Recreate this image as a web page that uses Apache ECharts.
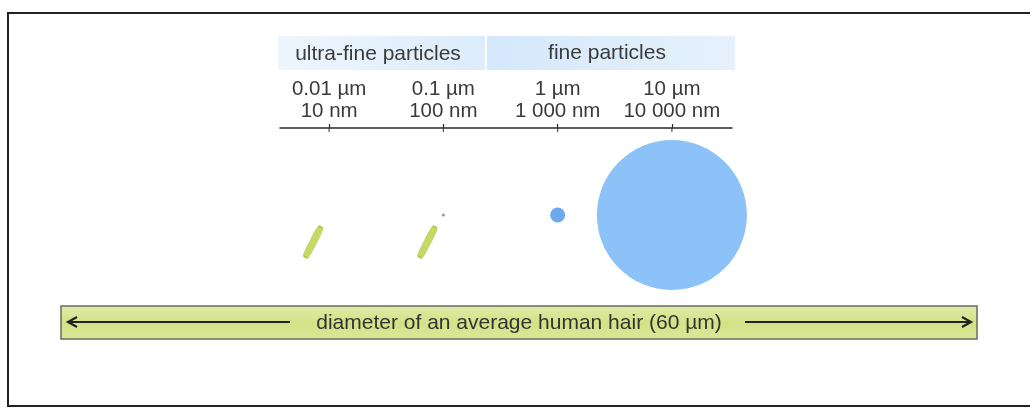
<!DOCTYPE html>
<html>
<head>
<meta charset="utf-8">
<script src="https://cdn.jsdelivr.net/npm/echarts@6/dist/echarts.min.js"></script>
<style>
html,body{margin:0;padding:0;background:#fff;}
#chart{width:1030px;height:408px;}
</style>
</head>
<body>
<div id="chart"></div>
<script>
// ---- data ----
const tickExponents = [-2, -1, 0, 1];              // log10 of size in µm
const tickMicron = ['0.01 µm', '0.1 µm', '1 µm', '10 µm'];
const tickNano = ['10 nm', '100 nm', '1 000 nm', '10 000 nm'];
const groupNames = ['ultra-fine particles', 'fine particles'];
const sphereDiameters = [0.1, 1, 10];              // µm
const sphereLevels = [0.494, 0.494, 0.494];
const rodExponents = [-2, -1];
const rodLevels = [0.337, 0.337];
const hairLabel = 'diameter of an average human hair (60 µm)';

const PX_PER_MICRON = 15;
const FONT = '"Liberation Sans", Arial, sans-serif';

const chart = echarts.init(document.getElementById('chart'), null, {renderer: 'canvas'});

const sphereData = sphereDiameters.map((d, i) => ({
  value: [Math.log10(d), sphereLevels[i]],
  itemStyle: {color: d < 0.5 ? '#8f98aa' : (d < 5 ? '#6ea9ef' : '#8dc2f8')}
}));
const rodData = rodExponents.map((e, i) => [e, rodLevels[i]]);

const option = {
  animation: false,
  backgroundColor: '#ffffff',
  grid: {left: 280, right: 298, top: 128, bottom: 108},
  xAxis: [{
    type: 'value', position: 'top', min: -2.43, max: 1.526,
    splitLine: {show: false},
    axisLine: {show: true, onZero: false, lineStyle: {color: '#2a2a2a', width: 1.5}},
    axisTick: {show: true, customValues: tickExponents, length: 4, inside: false, lineStyle: {color: '#2a2a2a', width: 1.2}},
    axisLabel: {
      show: true, customValues: tickExponents, margin: 6,
      fontFamily: FONT, fontSize: 20.5, lineHeight: 22, color: '#3a3a3a',
      formatter: v => {
        const i = tickExponents.indexOf(Math.round(v));
        return i < 0 ? '' : tickMicron[i] + '\n' + tickNano[i];
      }
    }
  }],
  yAxis: {type: 'value', min: 0, max: 1, show: false},
  series: [{
    name: 'spheres', type: 'scatter',
    data: sphereData,
    symbol: 'circle',
    symbolSize: v => Math.max(Math.pow(10, v[0]) * PX_PER_MICRON, 3),
    itemStyle: {opacity: 1},
    z: 3
  }, {
    name: 'rods', type: 'scatter',
    data: rodData,
    symbol: 'roundRect',
    symbolSize: [7, 34],
    symbolRotate: -27,
    symbolOffset: [-16, 0],
    itemStyle: {color: '#b8d040', borderColor: '#a5bf38', borderWidth: 0.8},
    z: 3
  }, {
    // short tick stubs below the axis line (ticks cross the line)
    name: 'tickStubs', type: 'scatter',
    data: tickExponents.map(e => [e, 1]),
    symbol: 'rect', symbolSize: [1.2, 4], symbolOffset: [0, 2],
    itemStyle: {color: '#2a2a2a'},
    silent: true, z: 2
  }],
  graphic: [
    // outer frame
    {type: 'rect', shape: {x: 8, y: 13, width: 1030, height: 393}, style: {fill: 'none', stroke: '#222', lineWidth: 2}, z: 1},
    // group headers
    {type: 'rect', shape: {x: 278, y: 36, width: 207, height: 34},
      style: {fill: new echarts.graphic.LinearGradient(0, 0, 1, 0, [{offset: 0, color: '#eef6fd'}, {offset: 1, color: '#dcecfb'}])}, z: 0},
    {type: 'rect', shape: {x: 487, y: 36, width: 248, height: 34},
      style: {fill: new echarts.graphic.LinearGradient(0, 0, 1, 0, [{offset: 0, color: '#d4e8fb'}, {offset: 1, color: '#e6f1fc'}])}, z: 0},
    {type: 'text', x: 378, y: 54, style: {text: groupNames[0], font: '21px ' + FONT, fill: '#3a3a3a', textAlign: 'center', textVerticalAlign: 'middle'}, z: 2},
    {type: 'text', x: 607, y: 53, style: {text: groupNames[1], font: '21px ' + FONT, fill: '#3a3a3a', textAlign: 'center', textVerticalAlign: 'middle'}, z: 2},
    // hair bar
    {type: 'rect', shape: {x: 61, y: 306, width: 916, height: 33},
      style: {fill: new echarts.graphic.LinearGradient(0, 0, 0, 1, [{offset: 0, color: '#e1ecaa'}, {offset: 0.5, color: '#d3e286'}, {offset: 1, color: '#dbe899'}]), stroke: '#6b6b5e', lineWidth: 1.5}, z: 1},
    {type: 'line', shape: {x1: 68, y1: 322, x2: 290, y2: 322}, style: {stroke: '#222', lineWidth: 2.2}, z: 2},
    {type: 'polyline', shape: {points: [[77, 317], [68, 322], [77, 327]]}, style: {stroke: '#222', lineWidth: 2.2, fill: 'none'}, z: 2},
    {type: 'line', shape: {x1: 745, y1: 322, x2: 971, y2: 322}, style: {stroke: '#222', lineWidth: 2.2}, z: 2},
    {type: 'polyline', shape: {points: [[962, 317], [971, 322], [962, 327]]}, style: {stroke: '#222', lineWidth: 2.2, fill: 'none'}, z: 2},
    {type: 'text', x: 519, y: 323, style: {text: hairLabel, font: '21px ' + FONT, fill: '#333', textAlign: 'center', textVerticalAlign: 'middle'}, z: 2}
  ]
};
chart.setOption(option);
</script>
</body>
</html>
